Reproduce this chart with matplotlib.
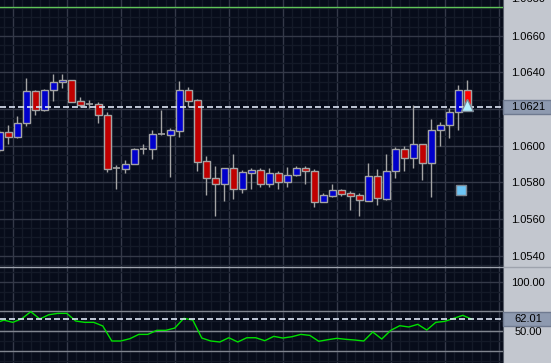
import matplotlib.pyplot as plt
import numpy as np
from matplotlib.lines import Line2D
from matplotlib.patches import Rectangle
from matplotlib.transforms import blended_transform_factory

plt.rcParams["font.family"] = ["Liberation Sans", "DejaVu Sans"]

# OHLC per bar (EUR/USD style quotes)
open_ = [1.05974, 1.06073, 1.06049, 1.06121, 1.06297, 1.06192, 1.06302, 1.06346, 1.06357, 1.06242,
         1.06225, 1.06226, 1.06166, 1.05876, 1.05875, 1.05898, 1.05983, 1.05983, 1.06062, 1.06060,
         1.06082, 1.06302, 1.06247, 1.05915, 1.05822, 1.05793, 1.05876, 1.05761, 1.05853, 1.05865,
         1.05789, 1.05850, 1.05800, 1.05838, 1.05876, 1.05860, 1.05695, 1.05727, 1.05756, 1.05741,
         1.05730, 1.05700, 1.05833, 1.05711, 1.05859, 1.05981, 1.05930, 1.06007, 1.05903, 1.06084,
         1.06112, 1.06183, 1.06303]
high = [1.06085, 1.06113, 1.06162, 1.06368, 1.06304, 1.06309, 1.06391, 1.06391, 1.06360, 1.06264,
        1.06249, 1.06237, 1.06186, 1.05893, 1.05922, 1.05989, 1.06009, 1.06085, 1.06195, 1.06095,
        1.06353, 1.06318, 1.06255, 1.05942, 1.05889, 1.05876, 1.05954, 1.05867, 1.05878, 1.05876,
        1.05876, 1.05863, 1.05882, 1.05888, 1.05889, 1.05871, 1.05741, 1.05789, 1.05763, 1.05754,
        1.05744, 1.05905, 1.05871, 1.05953, 1.05992, 1.05998, 1.06222, 1.06010, 1.06145, 1.06130,
        1.06204, 1.06331, 1.06358]
low = [1.05965, 1.06009, 1.06039, 1.06109, 1.06167, 1.06190, 1.06245, 1.06316, 1.06240, 1.06213,
       1.06208, 1.06124, 1.05858, 1.05765, 1.05852, 1.05898, 1.05954, 1.05927, 1.06060, 1.05831,
       1.06049, 1.06213, 1.05863, 1.05731, 1.05618, 1.05698, 1.05709, 1.05743, 1.05766, 1.05776,
       1.05776, 1.05766, 1.05776, 1.05835, 1.05788, 1.05667, 1.05693, 1.05720, 1.05725, 1.05649,
       1.05616, 1.05698, 1.05678, 1.05702, 1.05822, 1.05863, 1.05880, 1.05815, 1.05721, 1.05998,
       1.06039, 1.06085, 1.06208]
close = [1.06075, 1.06049, 1.06122, 1.06297, 1.06192, 1.06302, 1.06346, 1.06358, 1.06240, 1.06224,
         1.06225, 1.06165, 1.05875, 1.05876, 1.05899, 1.05982, 1.05983, 1.06062, 1.06062, 1.06084,
         1.06302, 1.06245, 1.05912, 1.05821, 1.05793, 1.05876, 1.05761, 1.05855, 1.05866, 1.05789,
         1.05849, 1.05800, 1.05838, 1.05876, 1.05859, 1.05695, 1.05730, 1.05756, 1.05738, 1.05726,
         1.05701, 1.05833, 1.05712, 1.05861, 1.05981, 1.05930, 1.06007, 1.05903, 1.06084, 1.06112,
         1.06183, 1.06303, 1.06210]

# oscillator in the lower pane (first value belongs to the bar before the window)
rsi = [57.8, 61.1, 58.8, 62.5, 69.6, 62.2, 66.5, 67.9, 67.9, 60.1, 58.8, 58.8, 55.1, 39.9,
       39.9, 42.2, 46.6, 46.6, 50.7, 50.7, 53.0, 62.9, 61.1, 42.9, 39.9, 38.9, 43.2, 38.9,
       43.2, 43.2, 40.2, 44.6, 42.9, 44.2, 46.6, 45.6, 39.6, 41.2, 42.6, 41.6, 40.9, 39.9,
       49.0, 41.9, 50.7, 55.4, 54.1, 56.8, 51.0, 58.8, 59.8, 62.9, 65.9, 62.01]

price_ticks = [1.0540, 1.0560, 1.0580, 1.0600, 1.0620, 1.0640, 1.0660]
price_labels = ["1.0540", "1.0560", "1.0580", "1.0600", "", "1.0640", "1.0660"]
last_price = 1.0621
level_line = 1.06757
rsi_last = 62.01
rsi_levels = [30, 50, 70]
rsi_ticks = [50, 100]
square_pos = (51.35, 1.05758)
arrow_pos = (52, 1.06222)

BG = "#070c1a"
MAJOR = "#343948"
MINOR = "#141a28"
PANEL = "#c3c7cf"
TAG = "#8e9ab0"
FS = 8.0
W, H = 551, 363

fig = plt.figure(figsize=(W / 100, H / 100), dpi=100, facecolor=PANEL)
ax = fig.add_axes([0, 1 - 266 / H, 503 / W, 266 / H], facecolor=BG)
ax2 = fig.add_axes([0, 0, 503 / W, 97 / H], facecolor=BG)

n = len(close)
x = np.arange(n)
o = np.array(open_)
c = np.array(close)
xmin, xmax = 0.078, 55.97

for a in (ax, ax2):
    a.set_xlim(xmin, xmax)
    a.set_xticks(np.arange(1.5, xmax, 6))
    a.set_xticks(np.arange(0.5, xmax, 1), minor=True)
    a.grid(which="major", color=MAJOR, lw=1, zorder=0)
    a.grid(which="minor", color=MINOR, lw=1, zorder=0)
    a.set_axisbelow(True)
    a.tick_params(which="both", length=0, labelbottom=False, labelleft=False,
                  left=False, right=False, labelright=True)
    a.tick_params(axis="y", which="both", pad=18, labelsize=FS, labelcolor="black")
    for side in ("left", "top", "bottom"):
        a.spines[side].set_visible(False)
    a.spines["right"].set_color("#565c68")

ax.spines["bottom"].set_visible(True)
ax.spines["bottom"].set_color("#9ea3ad")

# price pane
ax.set_ylim(1.05343, 1.06795)
ax.set_yticks(price_ticks)
ax.set_yticks(np.arange(1.0535, 1.0680, 0.0005), minor=True)
ax.set_yticklabels(price_labels)
for lbl in ax.get_yticklabels():
    lbl.set_horizontalalignment("center")

doji = np.abs(c - o) < 0.00003
up = c > o
colors = np.where(up, "#0000cc", "#c00000")
colors[-1] = "#ff0000"
ax.vlines(x, low, high, color="#a4a4a4", lw=1, zorder=2)
body = ~doji
ax.bar(x[body], np.abs(c - o)[body], bottom=np.minimum(c, o)[body], width=0.74,
       color=colors[body], edgecolor="#a4a4a4", linewidth=1, zorder=3)
ax.hlines(c[doji], x[doji] - 0.37, x[doji] + 0.37, color="#a4a4a4", lw=1.2, zorder=3)

ax.axhline(level_line, color="#5fc458", lw=1, zorder=4)
ax.axhline(last_price, color="#dde5f5", lw=1.2, dashes=(3.6, 1.8), zorder=4)
ax.plot(*arrow_pos, marker="^", ms=8, mfc="#b4f2ff", mec="#7c8896", mew=1, zorder=5)
ax.plot(*square_pos, marker="s", ms=6.5, mfc="#6cc4f4", mec="#7c8590", mew=1, zorder=5)

tr = blended_transform_factory(ax.transAxes, ax.transData)
lab_x = 1 + 25 / 503
ax.text(lab_x, 1.0680, "1.0680", transform=tr, ha="center", va="center",
        fontsize=FS, color="black", clip_on=False)
ax.add_patch(Rectangle((1.0, last_price - 0.00038), 48 / 503, 0.00076, transform=tr,
                       facecolor=TAG, edgecolor="#6f7a90", lw=1, clip_on=False, zorder=6))
ax.text(lab_x, last_price, f"{last_price:.4f}", transform=tr, ha="center", va="center",
        fontsize=FS, color="black", clip_on=False, zorder=7)

# oscillator pane
ax2.set_ylim(17.6, 115.9)
ax2.set_yticks(rsi_ticks)
ax2.set_yticks(np.arange(20, 115, 10), minor=True)
ax2.set_yticklabels([f"{v:.2f}" for v in rsi_ticks])
for lbl in ax2.get_yticklabels():
    lbl.set_horizontalalignment("center")
for lv in rsi_levels:
    ax2.axhline(lv, color="#80858f", lw=1, zorder=1)
ax2.plot(np.arange(-1, n) + 0.5, rsi, color="#00e000", lw=1, zorder=3)
ax2.axhline(rsi_last, color="#dde5f5", lw=1.2, dashes=(3.6, 1.8), zorder=4)
tr2 = blended_transform_factory(ax2.transAxes, ax2.transData)
ax2.add_patch(Rectangle((1.0, rsi_last - 7.0), 48 / 503, 14.0, transform=tr2,
                        facecolor=TAG, edgecolor="#6f7a90", lw=1, clip_on=False, zorder=6))
ax2.text(lab_x, rsi_last, f"{rsi_last:.2f}", transform=tr2, ha="center", va="center",
         fontsize=FS, color="black", clip_on=False, zorder=7)

# pane separator running through the label column
fig.add_artist(Line2D([0, 1], [1 - 266.5 / H] * 2, color="#9ea3ad", lw=1))

fig.savefig("out.png", dpi=100, facecolor=PANEL)
